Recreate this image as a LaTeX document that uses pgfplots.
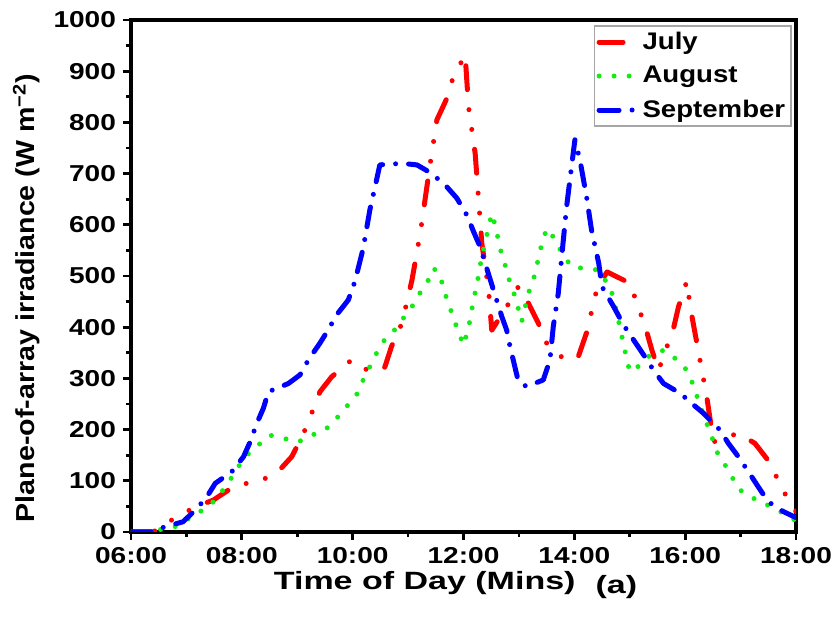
\documentclass[border=0pt]{standalone}
\usepackage{fontspec}
\setmainfont{Liberation Sans}
\newfontfamily\tickfont{Liberation Sans}[FakeStretch=1.22]
\newfontfamily\xlabfont{Liberation Sans}[FakeStretch=1.36]
\newfontfamily\ylabfont{Liberation Sans}[FakeStretch=1.1]
\newfontfamily\legfont{Liberation Sans}[FakeStretch=1.15]
\usepackage{pgfplots}
\pgfplotsset{compat=1.18}

\definecolor{jred}{RGB}{255,0,0}
\definecolor{agreen}{RGB}{20,235,20}
\definecolor{sblue}{RGB}{0,0,255}

\begin{document}
\begin{tikzpicture}
\path[use as bounding box] (-65.5pt,-44pt) rectangle (352pt,266pt);
\begin{axis}[
    scale only axis,
    width=332.5pt, height=256pt,
    xmin=6, xmax=18, ymin=0, ymax=1000,
    xtick={6,8,...,18},
    xticklabels={06:00,08:00,10:00,12:00,14:00,16:00,18:00},
    ytick={0,100,...,1000},
    minor x tick num=1, minor y tick num=1,
    xtick pos=bottom, ytick pos=left,
    tick align=outside,
    major tick length=4pt, minor tick length=2.5pt,
    every tick/.style={black, line width=1.4pt},
    axis line style={line width=2pt},
    /pgf/number format/assume math mode=true,
    /pgf/number format/1000 sep={},
    ticklabel style={font=\tickfont\fontsize{11.5}{13}\selectfont\bfseries},
    xlabel={Time of Day (Mins)\hspace{10pt}\raisebox{-2pt}{(a)}},
    ylabel={Plane-of-array irradiance (W m\textsuperscript{−2})},
    xlabel style={font=\xlabfont\fontsize{12.5}{14}\selectfont\bfseries, yshift=3pt, xshift=-4pt},
    ylabel style={font=\ylabfont\fontsize{13}{14}\selectfont\bfseries, yshift=0pt, xshift=-11pt},
    legend style={at={(0.994,0.99)}, anchor=north east, draw=gray!70, line width=0.8pt,
        font=\legfont\fontsize{12}{13}\selectfont\bfseries, inner sep=1pt, row sep=3pt},
    legend cell align=left,
    legend image code/.code={\draw[#1] (0cm,0cm) -- (0.65cm,0cm);},
    every axis plot/.append style={line width=2.5pt, line cap=round, line join=round},
]
% July
\addplot[jred, dash pattern=on 12pt off 10pt on 0pt off 10pt on 0pt off 10pt] coordinates {
(6,0) (6.4,0) (6.73,23) (7.16,49) (7.48,62) (7.9,92) (8.29,98) (8.63,115) (8.9,147)
(9.1,189) (9.26,232) (9.41,274) (9.62,303) (9.98,336) (10.31,313) (10.58,322) (10.7,362)
(10.89,408) (11.07,492) (11.22,584) (11.4,720) (11.52,805) (11.7,847) (11.81,887) (12.03,932)
(12.09,831) (12.21,740) (12.3,609) (12.33,564) (12.45,476) (12.51,394) (12.78,440) (12.99,479)
(13.17,447) (13.35,408) (13.5,369) (13.83,336) (14.07,342) (14.22,389) (14.41,476) (14.59,508)
(15.0,486) (15.13,447) (15.28,401) (15.4,355) (15.52,316) (15.79,398) (15.88,440) (16.03,490)
(16.09,440) (16.24,352) (16.39,264) (16.51,176) (16.96,193) (17.26,173) (17.56,131) (17.72,88)
(17.96,49) (18,40)
};
% August
\addplot[agreen, dash pattern=on 0pt off 7.5pt] coordinates {
(6,0) (6.4,0) (6.49,4) (6.79,10) (7.25,40) (7.46,56) (7.64,79) (7.79,102) (7.94,128) (8.09,150)
(8.3,170) (8.51,189) (8.75,183) (9.02,176) (9.26,189) (9.5,199) (9.71,222) (9.89,245) (10.07,268)
(10.19,297) (10.31,323) (10.43,349) (10.55,372) (10.73,391) (10.89,414) (11.07,440) (11.19,463)
(11.34,486) (11.46,515) (11.58,502) (11.64,473) (11.73,447) (11.82,417) (11.91,391) (12.0,365)
(12.09,398) (12.18,453) (12.24,482) (12.33,538) (12.45,593) (12.51,622) (12.57,600) (12.63,570)
(12.69,541) (12.78,512) (12.84,486) (12.93,460) (13.05,411) (13.17,466) (13.26,492) (13.38,547)
(13.44,577) (13.53,593) (13.65,570) (13.8,541) (13.95,518) (14.17,515) (14.41,512) (14.65,479)
(14.77,427) (14.89,365) (15.0,313) (15.19,326) (15.37,346) (15.61,355) (15.82,339) (16.0,320)
(16.12,294) (16.3,238) (16.48,186) (16.57,157) (16.72,131) (16.84,108) (16.99,82) (17.23,66)
(17.5,52) (17.77,37) (18,22)
};
% September
\addplot[sblue, dash pattern=on 10pt off 6.5pt on 0pt off 6.5pt] coordinates {
(6,0) (6.34,0) (6.61,10) (6.94,20) (7.19,46) (7.37,69) (7.52,95) (7.82,118) (8.03,147) (8.15,176)
(8.27,212) (8.39,242) (8.48,274) (8.84,290) (9.05,307) (9.2,336) (9.41,369) (9.56,395) (9.71,424)
(9.92,453) (10.04,489) (10.19,554) (10.31,629) (10.43,687) (10.49,717) (10.89,720) (11.16,717)
(11.43,700) (11.7,674) (11.88,652) (12.06,619) (12.18,587) (12.3,557) (12.39,525) (12.54,473)
(12.69,421) (12.78,394) (12.84,362) (12.99,294) (13.14,284) (13.44,297) (13.56,336) (13.62,401)
(13.71,466) (13.77,535) (13.86,635) (13.98,740) (14.01,766) (14.1,727) (14.22,655) (14.31,590)
(14.44,525) (14.5,479) (14.71,440) (14.89,404) (15.07,375) (15.25,346) (15.43,316) (15.61,290)
(15.91,271) (16.12,251) (16.33,232) (16.63,199) (16.78,173) (16.96,147) (17.14,118) (17.32,88)
(17.5,59) (17.77,40) (18,28)
};
\legend{July, August, September}
\end{axis}
\end{tikzpicture}
\end{document}
